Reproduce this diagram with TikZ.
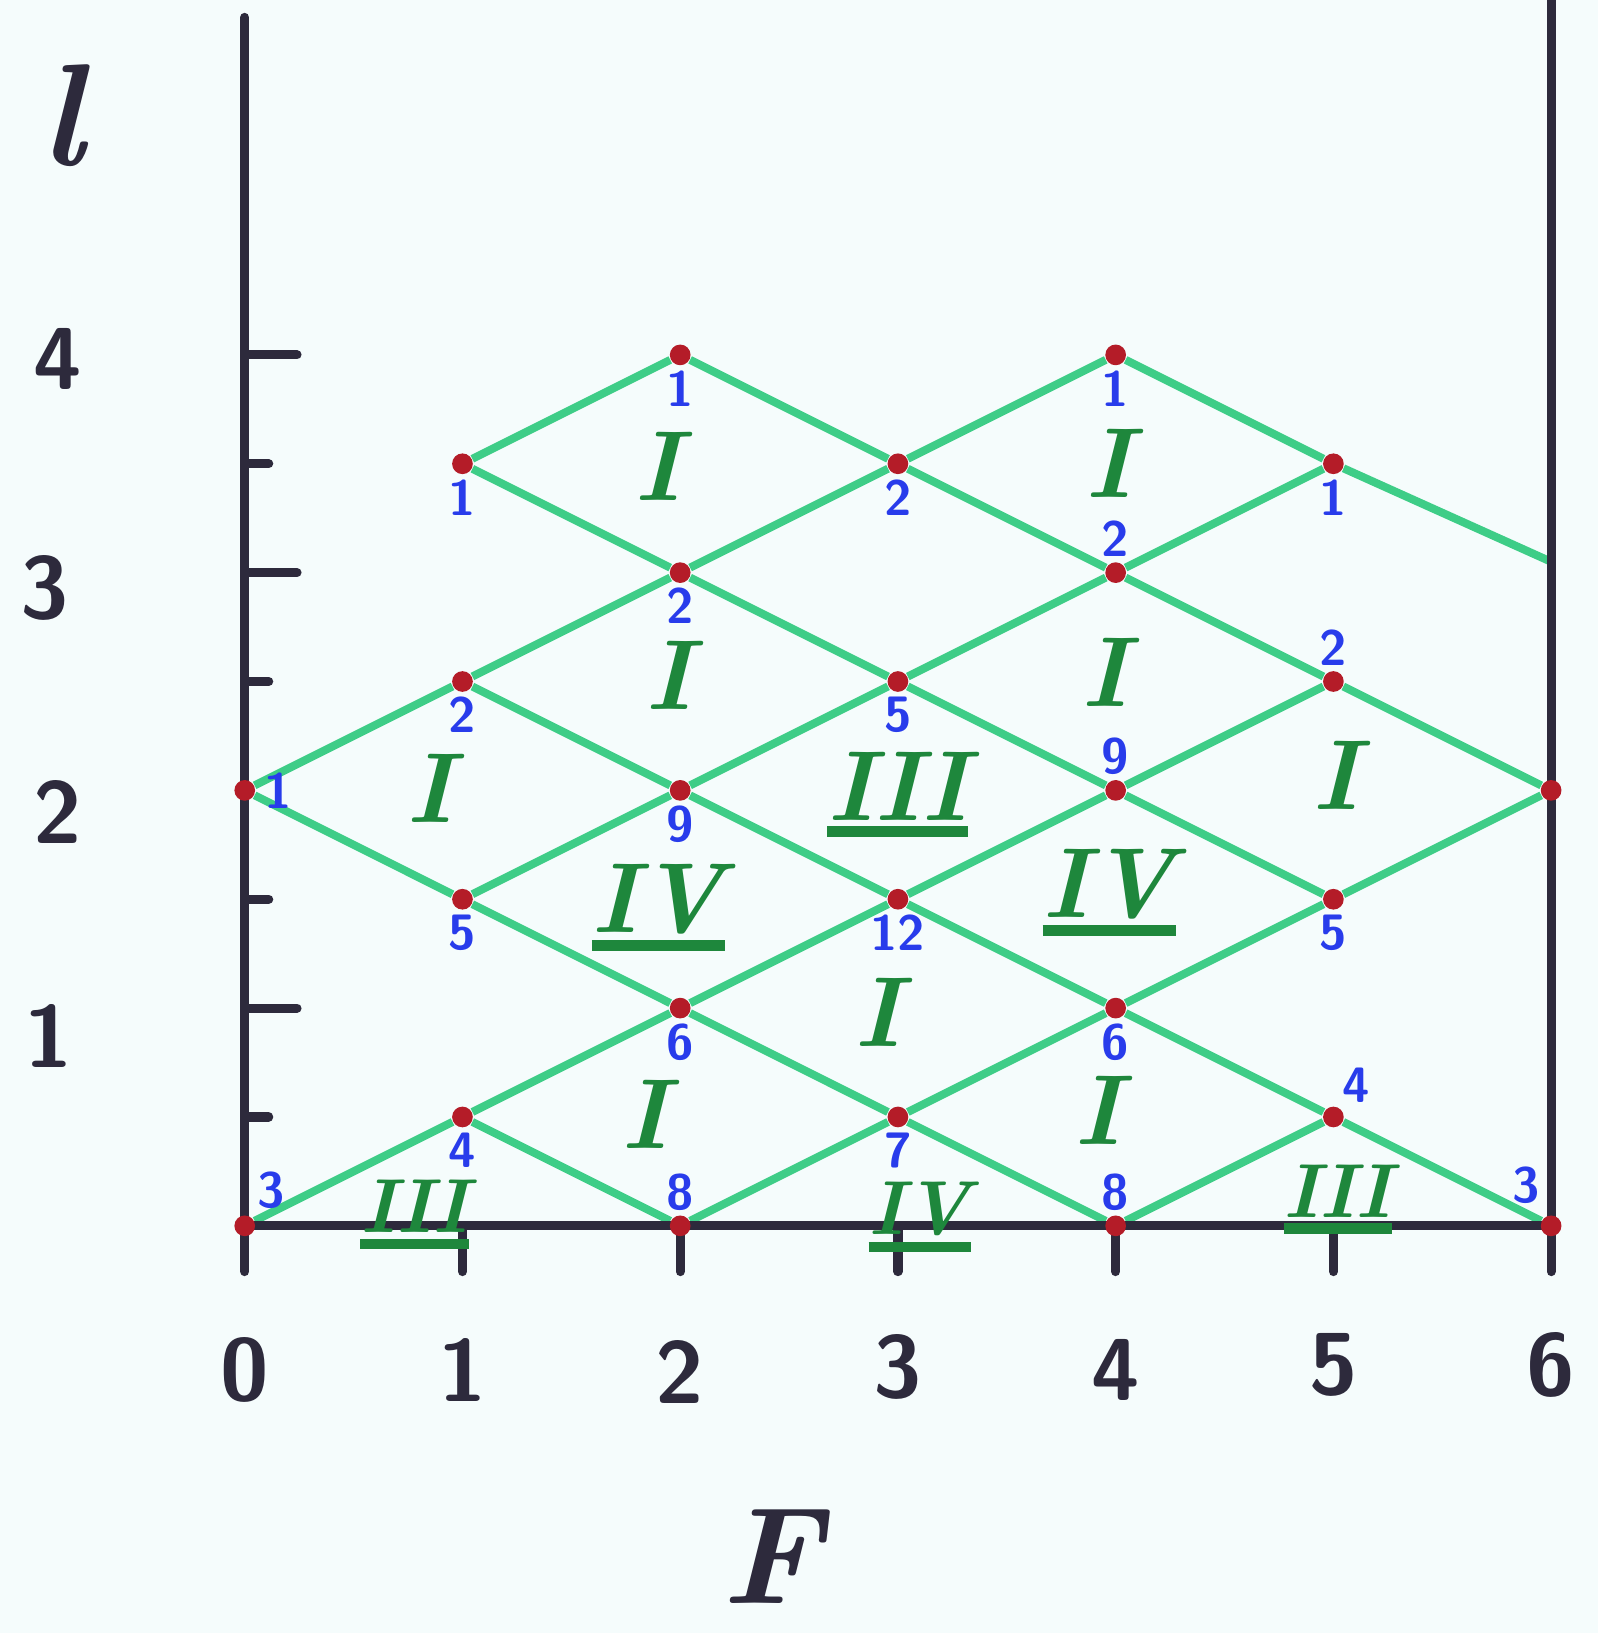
\documentclass[tikz,border=0pt]{standalone}
\usetikzlibrary{positioning}
\definecolor{paper}{RGB}{245,252,252}
\definecolor{axisgray}{RGB}{45,42,60}
\definecolor{meshgreen}{RGB}{62,205,135}
\definecolor{romgreen}{RGB}{30,135,60}
\definecolor{dotred}{RGB}{180,28,40}
\definecolor{numblue}{RGB}{40,60,235}
\newcommand{\romul}[1]{\vbox{\hbox{#1}\kern1.5pt\hrule height 2.8pt}}
\pgfdeclarelayer{bg}
\pgfsetlayers{bg,main}

\begin{document}
\begin{tikzpicture}[
  x=2cm, y=2cm,
  axisline/.style={draw=axisgray, line width=2.4pt, line cap=round},
  mesh/.style={draw=meshgreen, line width=2.1pt},
  lattpt/.style={circle, fill=dotred, inner sep=0pt, minimum size=0.19cm},
  num/.style={text=numblue, font=\sffamily\bfseries\fontsize{13}{15}\selectfont, inner sep=1pt},
  rom/.style={text=romgreen, font=\bfseries\itshape\fontsize{26}{28}\selectfont, inner sep=1pt},
  romsm/.style={text=romgreen, font=\bfseries\itshape\fontsize{20}{22}\selectfont, inner sep=1pt},
  ticklab/.style={text=axisgray, font=\sffamily\bfseries\fontsize{23}{26}\selectfont},
  axislab/.style={text=axisgray, font=\bfseries\itshape\fontsize{38}{40}\selectfont},
  every label/.style={num},
  label distance=0pt,
]
  \begin{pgfonlayer}{bg}
    \fill[paper] (-1.124,-1.87) rectangle (6.215,5.63);
  \end{pgfonlayer}
  \useasboundingbox (-1.124,-1.87) rectangle (6.215,5.63);

  % axes
  \coordinate (o) at (0,0);
  \coordinate (ytop) at (0,5.55);
  \coordinate (ybot) at (0,-0.21);
  \coordinate (xend) at (6,0);
  \coordinate (rtop) at (6,5.8);
  \coordinate (rbot) at (6,-0.21);
  \draw[axisline] (ytop) -- (ybot);
  \draw[axisline] (o) -- (xend);
  \draw[axisline] (rtop) -- (rbot);
  \draw[axisline] (1,0) -- (1,-0.21);
  \draw[axisline] (2,0) -- (2,-0.21);
  \draw[axisline] (3,0) -- (3,-0.21);
  \draw[axisline] (4,0) -- (4,-0.21);
  \draw[axisline] (5,0) -- (5,-0.21);
  \draw[axisline] (0,0.5) -- (0.11,0.5);
  \draw[axisline] (0,1) -- (0.24,1);
  \draw[axisline] (0,1.5) -- (0.11,1.5);
  \draw[axisline] (0,2.5) -- (0.11,2.5);
  \draw[axisline] (0,3) -- (0.24,3);
  \draw[axisline] (0,3.5) -- (0.11,3.5);
  \draw[axisline] (0,4) -- (0.24,4);

  % tick labels
  \node[ticklab] (f0) at (0,-0.66) {0};
  \node[ticklab] (f1) at (1,-0.66) {1};
  \node[ticklab] (f2) at (2,-0.67) {2};
  \node[ticklab] (f3) at (3,-0.65) {3};
  \node[ticklab] (f4) at (4,-0.66) {4};
  \node[ticklab] (f5) at (5,-0.64) {5};
  \node[ticklab] (f6) at (6,-0.64) {6};
  \node[ticklab] (l1) at (-0.9,0.87) {1};
  \node[ticklab] (l2) at (-0.86,1.9) {2};
  \node[ticklab] (l3) at (-0.92,2.93) {3};
  \node[ticklab] (l4) at (-0.86,3.98) {4};
  \node[axislab] (lname) at (-0.84,5.1) {l};
  \node[axislab, font=\bfseries\itshape\fontsize{36}{38}\selectfont] (fname) at (2.42,-1.52) {F};

  % lattice points
  \node[lattpt, label={below:1}] (p28) at (2,4) {};
  \node[lattpt, label={below:1}] (p48) at (4,4) {};
  \node[lattpt, label={below:1}] (p17) at (1,3.5) {};
  \node[lattpt, label={below:2}] (p37) at (3,3.5) {};
  \node[lattpt, label={below:1}] (p57) at (5,3.5) {};
  \node[lattpt, label={below:2}] (p26) at (2,3) {};
  \node[lattpt, label={above:2}] (p46) at (4,3) {};
  \node[lattpt, label={below:2}] (p15) at (1,2.5) {};
  \node[lattpt, label={below:5}] (p35) at (3,2.5) {};
  \node[lattpt, label={above:2}] (p55) at (5,2.5) {};
  \node[lattpt, label={[label distance=1pt]right:1}] (p04) at (0,2) {};
  \node[lattpt, label={below:9}] (p24) at (2,2) {};
  \node[lattpt, label={above:9}] (p44) at (4,2) {};
  \node[lattpt] (p64) at (6,2) {};
  \node[lattpt, label={below:5}] (p13) at (1,1.5) {};
  \node[lattpt, label={below:12}] (p33) at (3,1.5) {};
  \node[lattpt, label={below:5}] (p53) at (5,1.5) {};
  \node[lattpt, label={below:6}] (p22) at (2,1) {};
  \node[lattpt, label={below:6}] (p42) at (4,1) {};
  \node[lattpt, label={below:4}] (p11) at (1,0.5) {};
  \node[lattpt, label={below:7}] (p31) at (3,0.5) {};
  \node[lattpt, label={65:4}] (p51) at (5,0.5) {};
  \node[lattpt, label={[label distance=1pt]55:3}] (p00) at (0,0) {};
  \node[lattpt, label={above:8}] (p20) at (2,0) {};
  \node[lattpt, label={above:8}] (p40) at (4,0) {};
  \node[lattpt, label={[label distance=2pt]110:3}] (p60) at (6,0) {};
  \coordinate (p66) at (6,3.05);

  \begin{pgfonlayer}{bg}
    % rising lines
    \draw[mesh] (p00) -- (p11) -- (p22) -- (p33) -- (p44) -- (p55);
    \draw[mesh] (p20) -- (p31) -- (p42) -- (p53) -- (p64);
    \draw[mesh] (p40) -- (p51);
    \draw[mesh] (p04) -- (p15) -- (p26) -- (p37) -- (p48);
    \draw[mesh] (p13) -- (p24) -- (p35) -- (p46) -- (p57);
    \draw[mesh] (p17) -- (p28);
    % falling lines
    \draw[mesh] (p04) -- (p13) -- (p22) -- (p31) -- (p40);
    \draw[mesh] (p15) -- (p24) -- (p33) -- (p42) -- (p51) -- (p60);
    \draw[mesh] (p17) -- (p26) -- (p35) -- (p44) -- (p53);
    \draw[mesh] (p28) -- (p37) -- (p46) -- (p55) -- (p64);
    \draw[mesh] (p48) -- (p57) -- (p66);
    \draw[mesh] (p11) -- (p20);
  \end{pgfonlayer}

  % cell numerals
  \node[rom] (c1) at (1.9,3.49) {I};
  \node[rom] (c2) at (3.97,3.5) {I};
  \node[rom] (c3) at (1.95,2.53) {I};
  \node[rom] (c4) at (3.95,2.54) {I};
  \node[rom] (c5) at (0.85,2.01) {I};
  \node[rom] (c6) at (3.0,1.98) {\romul{III}};
  \node[rom] (c7) at (5.01,2.07) {I};
  \node[rom] (c8) at (1.9,1.46) {\romul{IV}};
  \node[rom] (c9) at (3.97,1.53) {\romul{IV}};
  \node[rom] (c10) at (2.91,0.98) {I};
  \node[rom] (c11) at (1.84,0.51) {I};
  \node[rom] (c12) at (3.92,0.53) {I};
  \node[romsm] (c13) at (0.78,0.05) {\romul{III}};
  \node[romsm] (c14) at (3.1,0.04) {\romul{IV}};
  \node[romsm] (c15) at (5.02,0.12) {\romul{III}};
\end{tikzpicture}
\end{document}
